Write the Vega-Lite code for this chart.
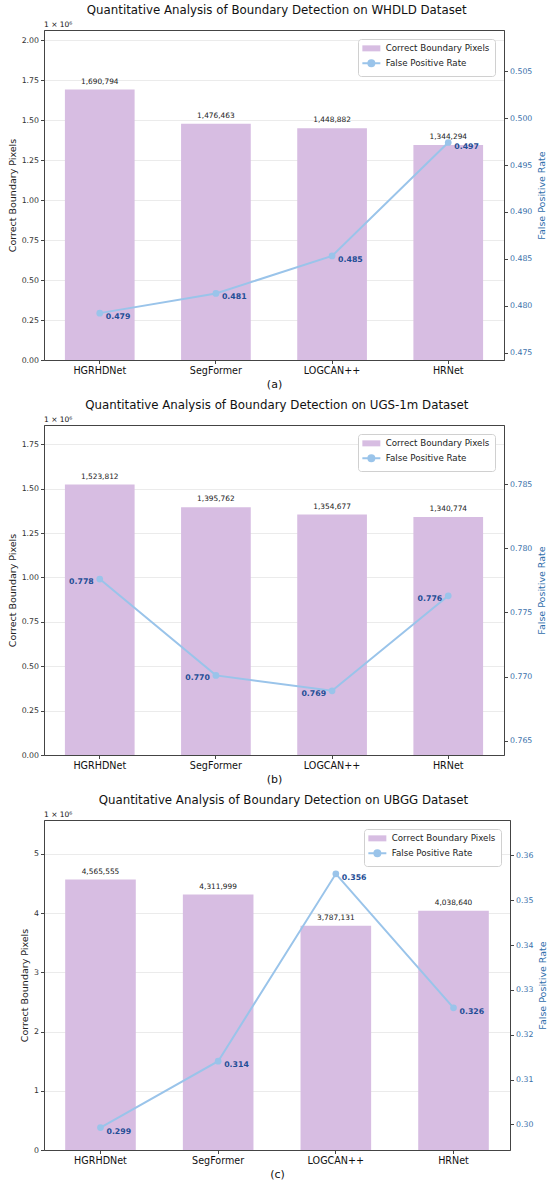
{
  "$schema": "https://vega.github.io/schema/vega-lite/v6.json",
  "padding": {"left": 6, "top": 5, "right": 4, "bottom": 4},
  "spacing": 10,
  "resolve": {"scale": {"color": "independent"}, "legend": {"color": "independent"}},
  "vconcat": [
    {
      "title": {"text": "Quantitative Analysis of Boundary Detection on WHDLD Dataset", "anchor": "middle", "fontSize": 11.8, "offset": 3},
      "resolve": {"scale": {"color": "independent"}, "legend": {"color": "independent"}},
      "vconcat": [
        {
          "title": {"text": "1 × 10⁶", "anchor": "start", "frame": "group", "fontSize": 7.5, "offset": 2},
          "width": 460,
          "height": 330,
          "data": {"values": [
            {"model": "HGRHDNet", "pixels": 1690794, "fpr": 0.4792},
            {"model": "SegFormer", "pixels": 1476463, "fpr": 0.4813},
            {"model": "LOGCAN++", "pixels": 1448882, "fpr": 0.4853},
            {"model": "HRNet", "pixels": 1344294, "fpr": 0.4974}
          ]},
          "encoding": {
            "x": {"field": "model", "type": "nominal", "sort": null, "scale": {"paddingInner": 0.4, "paddingOuter": 0.18}, "axis": {"title": "(a)"}}
          },
          "layer": [
            {
              "layer": [
                {
                  "mark": {"type": "bar"},
                  "encoding": {
                    "y": {"field": "pixels", "type": "quantitative", "scale": {"domain": [0, 2062769], "nice": false},
                      "axis": {"title": "Correct Boundary Pixels", "values": [0, 250000, 500000, 750000, 1000000, 1250000, 1500000, 1750000, 2000000], "labelExpr": "format(datum.value / 1e6, '.2f')", "grid": true, "gridColor": "#ebebeb", "labelFontSize": 7.8, "labelColor": "#333", "titleFontSize": 9.5, "titleColor": "#222", "titlePadding": 4}},
                    "color": {"datum": "Correct Boundary Pixels", "type": "nominal",
                      "scale": {"domain": ["Correct Boundary Pixels", "False Positive Rate"], "range": ["#d7bde2", "#9ac4ea"]},
                      "legend": {"encode": {"symbols": {"update": {
                        "shape": {"signal": "datum.value === 'False Positive Rate' ? 'M-1.8,0H1.8M0.6,0A0.6,0.6,0,1,1,-0.6,0A0.6,0.6,0,1,1,0.6,0Z' : 'M-1.8,-0.6H1.8V0.6H-1.8Z'"},
                        "fill": {"signal": "datum.value === 'False Positive Rate' ? '#9ac4ea' : '#d7bde2'"},
                        "stroke": {"signal": "datum.value === 'False Positive Rate' ? '#9ac4ea' : '#d7bde2'"},
                        "strokeWidth": {"signal": "datum.value === 'False Positive Rate' ? 2 : 0"},
                        "opacity": {"value": 1}
                      }}}}}
                  }
                },
                {
                  "mark": {"type": "text", "baseline": "bottom", "dy": -4, "fontSize": 7.4, "color": "#222"},
                  "encoding": {
                    "y": {"field": "pixels", "type": "quantitative"},
                    "text": {"field": "pixels", "type": "quantitative", "format": ","}
                  }
                }
              ]
            },
            {
              "layer": [
                {
                  "mark": {"type": "line", "strokeWidth": 2, "point": {"filled": true, "size": 45}},
                  "encoding": {
                    "y": {"field": "fpr", "type": "quantitative", "scale": {"domain": [0.4742, 0.5094], "nice": false, "zero": false},
                      "axis": {"orient": "right", "title": "False Positive Rate", "titleAngle": 270, "titleBaseline": "top", "values": [0.475, 0.48, 0.485, 0.49, 0.495, 0.5, 0.505], "format": ".3f", "grid": false, "labelFontSize": 7.8, "labelColor": "#3a70aa", "titleFontSize": 9.5, "titleColor": "#2f6eab", "titlePadding": 5}},
                    "color": {"datum": "False Positive Rate", "type": "nominal"}
                  }
                },
                {
                  "mark": {"type": "text", "align": "left", "dx": 6, "dy": 4, "fontSize": 7.8, "fontWeight": "bold", "color": "#1f4e96"},
                  "encoding": {
                    "y": {"field": "fpr", "type": "quantitative"},
                    "text": {"field": "fpr", "type": "quantitative", "format": ".3f"}
                  }
                }
              ]
            }
          ],
          "resolve": {"scale": {"y": "independent"}}
        }
      ]
    },
    {
      "title": {"text": "Quantitative Analysis of Boundary Detection on UGS-1m Dataset", "anchor": "middle", "fontSize": 11.8, "offset": 3},
      "resolve": {"scale": {"color": "independent"}, "legend": {"color": "independent"}},
      "vconcat": [
        {
          "title": {"text": "1 × 10⁶", "anchor": "start", "frame": "group", "fontSize": 7.5, "offset": 2},
          "width": 460,
          "height": 330,
          "data": {"values": [
            {"model": "HGRHDNet", "pixels": 1523812, "fpr": 0.7776},
            {"model": "SegFormer", "pixels": 1395762, "fpr": 0.7701},
            {"model": "LOGCAN++", "pixels": 1354677, "fpr": 0.7689},
            {"model": "HRNet", "pixels": 1340774, "fpr": 0.7763}
          ]},
          "encoding": {
            "x": {"field": "model", "type": "nominal", "sort": null, "scale": {"paddingInner": 0.4, "paddingOuter": 0.18}, "axis": {"title": "(b)"}}
          },
          "layer": [
            {
              "layer": [
                {
                  "mark": {"type": "bar"},
                  "encoding": {
                    "y": {"field": "pixels", "type": "quantitative", "scale": {"domain": [0, 1859051], "nice": false},
                      "axis": {"title": "Correct Boundary Pixels", "values": [0, 250000, 500000, 750000, 1000000, 1250000, 1500000, 1750000], "labelExpr": "format(datum.value / 1e6, '.2f')", "grid": true, "gridColor": "#ebebeb", "labelFontSize": 7.8, "labelColor": "#333", "titleFontSize": 9.5, "titleColor": "#222", "titlePadding": 4}},
                    "color": {"datum": "Correct Boundary Pixels", "type": "nominal",
                      "scale": {"domain": ["Correct Boundary Pixels", "False Positive Rate"], "range": ["#d7bde2", "#9ac4ea"]},
                      "legend": {"encode": {"symbols": {"update": {
                        "shape": {"signal": "datum.value === 'False Positive Rate' ? 'M-1.8,0H1.8M0.6,0A0.6,0.6,0,1,1,-0.6,0A0.6,0.6,0,1,1,0.6,0Z' : 'M-1.8,-0.6H1.8V0.6H-1.8Z'"},
                        "fill": {"signal": "datum.value === 'False Positive Rate' ? '#9ac4ea' : '#d7bde2'"},
                        "stroke": {"signal": "datum.value === 'False Positive Rate' ? '#9ac4ea' : '#d7bde2'"},
                        "strokeWidth": {"signal": "datum.value === 'False Positive Rate' ? 2 : 0"},
                        "opacity": {"value": 1}
                      }}}}}
                  }
                },
                {
                  "mark": {"type": "text", "baseline": "bottom", "dy": -4, "fontSize": 7.4, "color": "#222"},
                  "encoding": {
                    "y": {"field": "pixels", "type": "quantitative"},
                    "text": {"field": "pixels", "type": "quantitative", "format": ","}
                  }
                }
              ]
            },
            {
              "layer": [
                {
                  "mark": {"type": "line", "strokeWidth": 2, "point": {"filled": true, "size": 45}},
                  "encoding": {
                    "y": {"field": "fpr", "type": "quantitative", "scale": {"domain": [0.7639, 0.7896], "nice": false, "zero": false},
                      "axis": {"orient": "right", "title": "False Positive Rate", "titleAngle": 270, "titleBaseline": "top", "values": [0.765, 0.77, 0.775, 0.78, 0.785], "format": ".3f", "grid": false, "labelFontSize": 7.8, "labelColor": "#3a70aa", "titleFontSize": 9.5, "titleColor": "#2f6eab", "titlePadding": 5}},
                    "color": {"datum": "False Positive Rate", "type": "nominal"}
                  }
                },
                {
                  "mark": {"type": "text", "align": "right", "dx": -6, "dy": 3, "fontSize": 7.8, "fontWeight": "bold", "color": "#1f4e96"},
                  "encoding": {
                    "y": {"field": "fpr", "type": "quantitative"},
                    "text": {"field": "fpr", "type": "quantitative", "format": ".3f"}
                  }
                }
              ]
            }
          ],
          "resolve": {"scale": {"y": "independent"}}
        }
      ]
    },
    {
      "title": {"text": "Quantitative Analysis of Boundary Detection on UBGG Dataset", "anchor": "middle", "fontSize": 11.8, "offset": 3},
      "resolve": {"scale": {"color": "independent"}, "legend": {"color": "independent"}},
      "vconcat": [
        {
          "title": {"text": "1 × 10⁶", "anchor": "start", "frame": "group", "fontSize": 7.5, "offset": 2},
          "width": 466,
          "height": 330,
          "data": {"values": [
            {"model": "HGRHDNet", "pixels": 4565555, "fpr": 0.2993},
            {"model": "SegFormer", "pixels": 4311999, "fpr": 0.3141},
            {"model": "LOGCAN++", "pixels": 3787131, "fpr": 0.3559},
            {"model": "HRNet", "pixels": 4038640, "fpr": 0.326}
          ]},
          "encoding": {
            "x": {"field": "model", "type": "nominal", "sort": null, "scale": {"paddingInner": 0.4, "paddingOuter": 0.18}, "axis": {"title": "(c)"}}
          },
          "layer": [
            {
              "layer": [
                {
                  "mark": {"type": "bar"},
                  "encoding": {
                    "y": {"field": "pixels", "type": "quantitative", "scale": {"domain": [0, 5569977], "nice": false},
                      "axis": {"title": "Correct Boundary Pixels", "values": [0, 1000000, 2000000, 3000000, 4000000, 5000000], "labelExpr": "format(datum.value / 1e6, '.0f')", "grid": true, "gridColor": "#ebebeb", "labelFontSize": 7.8, "labelColor": "#333", "titleFontSize": 9.5, "titleColor": "#222", "titlePadding": 4}},
                    "color": {"datum": "Correct Boundary Pixels", "type": "nominal",
                      "scale": {"domain": ["Correct Boundary Pixels", "False Positive Rate"], "range": ["#d7bde2", "#9ac4ea"]},
                      "legend": {"encode": {"symbols": {"update": {
                        "shape": {"signal": "datum.value === 'False Positive Rate' ? 'M-1.8,0H1.8M0.6,0A0.6,0.6,0,1,1,-0.6,0A0.6,0.6,0,1,1,0.6,0Z' : 'M-1.8,-0.6H1.8V0.6H-1.8Z'"},
                        "fill": {"signal": "datum.value === 'False Positive Rate' ? '#9ac4ea' : '#d7bde2'"},
                        "stroke": {"signal": "datum.value === 'False Positive Rate' ? '#9ac4ea' : '#d7bde2'"},
                        "strokeWidth": {"signal": "datum.value === 'False Positive Rate' ? 2 : 0"},
                        "opacity": {"value": 1}
                      }}}}}
                  }
                },
                {
                  "mark": {"type": "text", "baseline": "bottom", "dy": -4, "fontSize": 7.4, "color": "#222"},
                  "encoding": {
                    "y": {"field": "pixels", "type": "quantitative"},
                    "text": {"field": "pixels", "type": "quantitative", "format": ","}
                  }
                }
              ]
            },
            {
              "layer": [
                {
                  "mark": {"type": "line", "strokeWidth": 2, "point": {"filled": true, "size": 45}},
                  "encoding": {
                    "y": {"field": "fpr", "type": "quantitative", "scale": {"domain": [0.2943, 0.3679], "nice": false, "zero": false},
                      "axis": {"orient": "right", "title": "False Positive Rate", "titleAngle": 270, "titleBaseline": "top", "values": [0.3, 0.31, 0.32, 0.33, 0.34, 0.35, 0.36], "format": ".2f", "grid": false, "labelFontSize": 7.8, "labelColor": "#3a70aa", "titleFontSize": 9.5, "titleColor": "#2f6eab", "titlePadding": 5}},
                    "color": {"datum": "False Positive Rate", "type": "nominal"}
                  }
                },
                {
                  "mark": {"type": "text", "align": "left", "dx": 6, "dy": 4, "fontSize": 7.8, "fontWeight": "bold", "color": "#1f4e96"},
                  "encoding": {
                    "y": {"field": "fpr", "type": "quantitative"},
                    "text": {"field": "fpr", "type": "quantitative", "format": ".3f"}
                  }
                }
              ]
            }
          ],
          "resolve": {"scale": {"y": "independent"}}
        }
      ]
    }
  ],
  "config": {
    "font": "DejaVu Sans",
    "view": {"stroke": "#444", "strokeWidth": 1},
    "axis": {"labelFont": "DejaVu Sans", "titleFont": "DejaVu Sans", "tickSize": 3.5, "tickColor": "#444", "domainColor": "#444", "labelPadding": 2, "titleFontWeight": "normal"},
    "axisX": {"grid": false, "labelAngle": 0, "labelFontSize": 9.6, "labelColor": "#111", "titleFontSize": 11, "titlePadding": 3, "titleColor": "#111"},
    "title": {"font": "DejaVu Sans", "fontWeight": "normal", "color": "#111"},
    "legend": {"orient": "top-right", "offset": 9, "title": null, "padding": 5, "fillColor": "#ffffff", "strokeColor": "#d0d0d0", "cornerRadius": 3, "labelFontSize": 8.7, "labelColor": "#222", "labelFont": "DejaVu Sans", "symbolSize": 100, "symbolOffset": 4, "labelOffset": 10, "rowPadding": 2}
  }
}
